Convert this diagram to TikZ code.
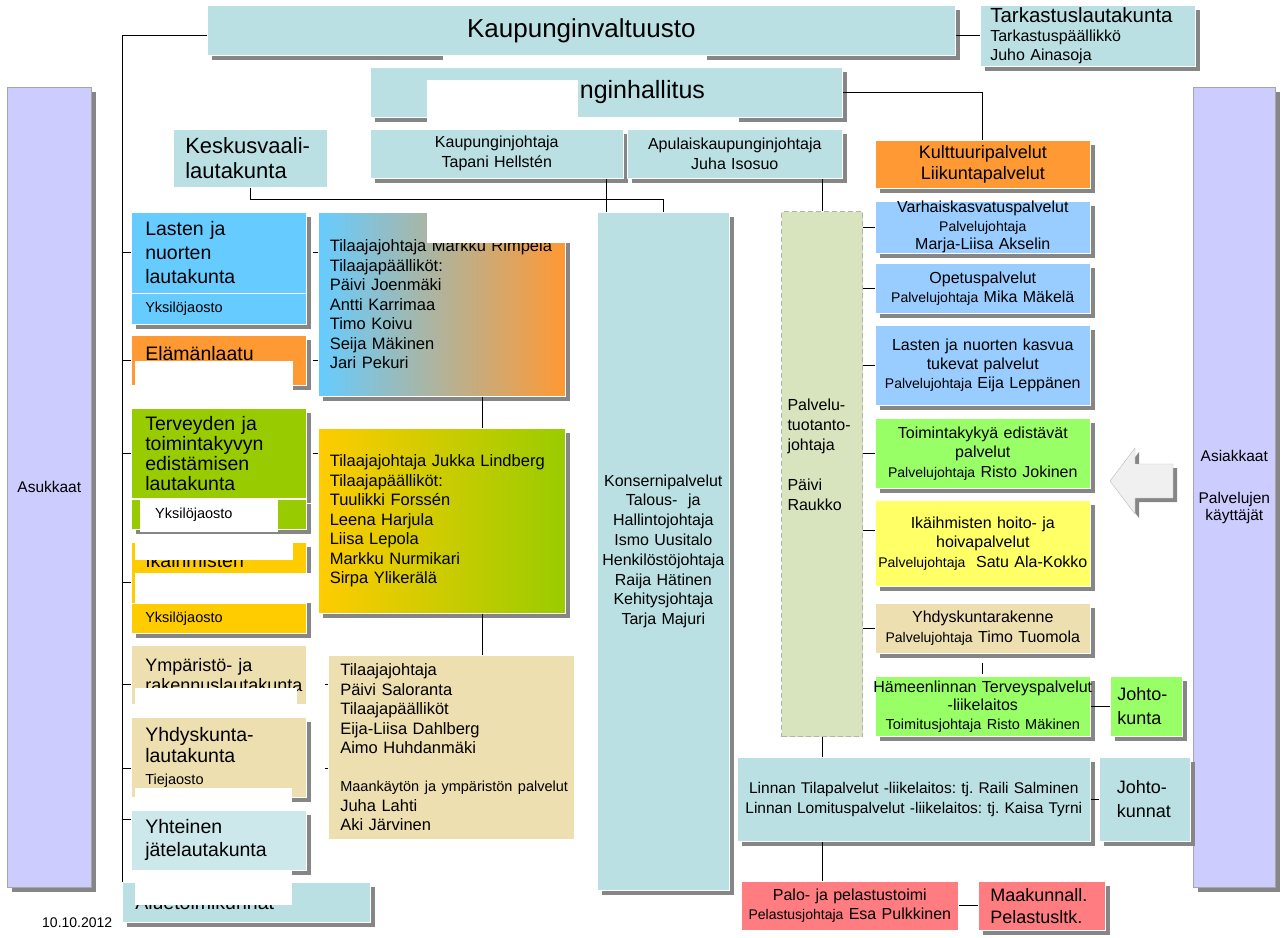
\documentclass[tikz,border=0pt]{standalone}
\usepackage{fontspec}
\setmainfont{Liberation Sans}
\usepackage{xcolor}
\usepackage{tikz}
\usetikzlibrary{calc, shadows}

\definecolor{tealsin}{HTML}{BBE0E3}
\definecolor{jatesin}{HTML}{CCE8EA}
\definecolor{lastensin}{HTML}{66CCFF}
\definecolor{oranssi}{HTML}{FF9933}
\definecolor{vihrea}{HTML}{99CC00}
\definecolor{keltainen}{HTML}{FFCC00}
\definecolor{beige}{HTML}{EEDFB0}
\definecolor{palvsin}{HTML}{99CCFF}
\definecolor{palvvihr}{HTML}{99FF66}
\definecolor{palvkelt}{HTML}{FFFF66}
\definecolor{punainen}{HTML}{FF7C80}
\definecolor{laventeli}{HTML}{CCCCFF}
\definecolor{tuotvihr}{HTML}{D7E4BD}
\definecolor{varjo}{HTML}{868686}
\newcommand{\pien}[1]{{\fontsize{14}{16}\selectfont #1}}
\frenchspacing

\begin{document}
\begin{tikzpicture}[x=1pt, y=-1pt,
    every node/.style={font=\fontsize{16}{19.5}\selectfont},
    box/.style={anchor=north west, draw=white, line width=0.6pt, inner ysep=0pt,
      general shadow={fill=varjo, shadow xshift=5pt, shadow yshift=-5pt}},
    flatbox/.style={anchor=north west, draw=white, line width=0.6pt, inner ysep=0pt},
    ln/.style={black, line width=0.8pt}]
  \useasboundingbox (0,0) rectangle (1284,937);

  % reunat: asukkaat ja asiakkaat
  \node[box, fill=laventeli, draw=gray!70, minimum width=84pt, minimum height=800pt, text width=80pt, inner xsep=2pt, align=center, font=\fontsize{15.5}{17}\selectfont] (asukkaat) at (7,87) {Asukkaat};
  \node[box, fill=laventeli, draw=gray!70, minimum width=82pt, minimum height=800pt, text width=78pt, inner xsep=2pt, align=center, font=\fontsize{15.5}{17}\selectfont] (asiakkaat) at (1193,87) {Asiakkaat\\[25pt]Palvelujen\\käyttäjät};
  \draw[fill=gray!12, draw=gray!55, general shadow={fill=varjo, shadow xshift=4pt, shadow yshift=-4pt}]
    (1110,481) -- (1135,448) -- (1135,464) -- (1173,464) -- (1173,498) -- (1135,498) -- (1135,514) -- cycle;

  % ylin taso
  \node[box, fill=tealsin, minimum width=748pt, minimum height=50pt, font=\fontsize{26}{30}\selectfont] (valtuusto) at (207,5) {Kaupunginvaltuusto};
  \node[box, fill=tealsin, minimum width=215pt, minimum height=61pt, inner xsep=10pt, text width=195pt, align=left, font=\fontsize{16}{19}\selectfont] (tarkastus) at (980,5) {{\fontsize{20.5}{22}\selectfont Tarkastuslautakunta}\\Tarkastuspäällikkö\\Juho Ainasoja};
  \node[box, fill=tealsin, minimum width=472pt, minimum height=50pt, font=\fontsize{25}{30}\selectfont] (hallitus) at (370,67) {Kaupunginhallitus};
  \node[box, fill=tealsin, minimum width=253pt, minimum height=49pt, inner xsep=2pt, text width=249pt, align=center, font=\fontsize{16}{20}\selectfont] (kjohtaja) at (370,129) {Kaupunginjohtaja\\Tapani Hellstén};
  \node[box, fill=tealsin, minimum width=215pt, minimum height=49pt, inner xsep=2pt, text width=211pt, align=center, font=\fontsize{16}{20}\selectfont] (apulais) at (627,129) {Apulaiskaupunginjohtaja\\Juha Isosuo};
  \node[flatbox, fill=tealsin, minimum width=154pt, minimum height=58pt, inner xsep=12pt, text width=130pt, align=left, font=\fontsize{22}{25}\selectfont] (keskusvaali) at (173,129) {Keskusvaali-\\lautakunta};

  % lautakunnat
  \node[box, fill=lastensin, minimum width=175pt, minimum height=81pt, inner xsep=14pt, text width=147pt, align=left, font=\fontsize{19.5}{24}\selectfont] (lasten) at (131,212) {Lasten ja\\nuorten\\lautakunta};
  \node[box, fill=lastensin, minimum width=175pt, minimum height=31pt, inner xsep=14pt, text width=147pt, align=left, font=\fontsize{14.5}{17}\selectfont] (lastenyks) at (131,293) {Yksilöjaosto};
  \node[box, fill=oranssi, minimum width=175pt, minimum height=50pt, inner xsep=14pt, text width=147pt, align=left, font=\fontsize{19.5}{24}\selectfont] (elama) at (131,335) {Elämänlaatu\\[-10pt]\mbox{}};
  \node[box, fill=vihrea, minimum width=175pt, minimum height=90pt, inner xsep=14pt, text width=147pt, align=left, font=\fontsize{19.5}{20}\selectfont] (terveys) at (131,408) {Terveyden ja\\toimintakyvyn\\edistämisen\\lautakunta};
  \node[box, fill=vihrea, minimum width=175pt, minimum height=30pt] (terveysyks) at (131,499) {};
  \node[anchor=north west, fill=white, minimum width=138pt, minimum height=34pt, inner xsep=15pt, inner ysep=0pt, text width=108pt, align=left, font=\fontsize{14.5}{17}\selectfont] (terveysyksteksti) at (140,498) {Yksilöjaosto};
  \node[box, fill=keltainen, minimum width=175pt, minimum height=61pt, inner xsep=14pt, text width=147pt, align=left, font=\fontsize{19.5}{24}\selectfont] (ikaih) at (131,542) {Ikäihmisten\\\mbox{}};
  \node[box, fill=keltainen, minimum width=175pt, minimum height=30pt, inner xsep=14pt, text width=147pt, align=left, font=\fontsize{14.5}{17}\selectfont] (ikaihyks) at (131,603) {Yksilöjaosto};
  \node[flatbox, fill=beige, minimum width=175pt, minimum height=59pt, inner xsep=14pt, text width=147pt, align=left, font=\fontsize{18}{20}\selectfont] (ymparisto) at (131,645) {Ympäristö- ja\\\mbox{rakennuslautakunta}};
  \node[box, fill=beige, minimum width=175pt, minimum height=80pt, inner xsep=14pt, text width=147pt, align=left, font=\fontsize{19.5}{21.5}\selectfont] (yhdyskunta) at (131,717) {Yhdyskunta-\\lautakunta\\{\fontsize{14.5}{17}\selectfont Tiejaosto}};
  \node[box, fill=jatesin, minimum width=175pt, minimum height=60pt, inner xsep=14pt, text width=147pt, align=left, font=\fontsize{19.5}{23}\selectfont] (yhteinen) at (131,810) {Yhteinen\\jätelautakunta};
  \node[box, fill=tealsin, minimum width=248pt, minimum height=40pt, inner xsep=13pt, text width=222pt, align=left, font=\fontsize{19.5}{23}\selectfont] (alue) at (122,882) {Aluetoimikunnat};
  \node[anchor=west, inner sep=0pt, font=\fontsize{14}{16}\selectfont] (pvm) at (42,923) {10.10.2012};

  % tilaajat
  \node[box, left color=lastensin, right color=oranssi, minimum width=247pt, minimum height=184pt, inner xsep=11.5pt, text width=224pt, align=left, font=\fontsize{16.5}{19.5}\selectfont] (rimpela) at (318,212) {Tilaajajohtaja Markku Rimpelä\\Tilaajapäälliköt:\\Päivi Joenmäki\\Antti Karrimaa\\Timo Koivu\\Seija Mäkinen\\Jari Pekuri};
  \node[box, left color=keltainen, right color=vihrea, minimum width=247pt, minimum height=185pt, inner xsep=11.5pt, text width=224pt, align=left, font=\fontsize{16.5}{19.5}\selectfont] (lindberg) at (318,428) {Tilaajajohtaja Jukka Lindberg\\Tilaajapäälliköt:\\Tuulikki Forssén\\Leena Harjula\\Liisa Lepola\\Markku Nurmikari\\Sirpa Ylikerälä};
  \node[flatbox, fill=beige, minimum width=246pt, minimum height=184pt, inner xsep=12pt, text width=222pt, align=left, font=\fontsize{16.5}{19.5}\selectfont] (saloranta) at (328,655) {Tilaajajohtaja\\Päivi Saloranta\\Tilaajapäälliköt\\Eija-Liisa Dahlberg\\Aimo Huhdanmäki\\[18.5pt]\mbox{\fontsize{14.5}{17}\selectfont Maankäytön ja ympäristön palvelut}\\Juha Lahti\\Aki Järvinen};
  \node[box, fill=tealsin, minimum width=132pt, minimum height=678pt, inner xsep=2pt, text width=128pt, align=center, font=\fontsize{16}{19.8}\selectfont] (konserni) at (597,212) {Konsernipalvelut\\Talous-~ ja\\Hallintojohtaja\\Ismo Uusitalo\\Henkilöstöjohtaja\\Raija Hätinen\\Kehitysjohtaja\\Tarja Majuri};

  % palvelutuotanto
  \node[anchor=north west, fill=tuotvihr, draw=gray!60, dash pattern=on 5pt off 3pt, line width=1pt, minimum width=81pt, minimum height=525pt, inner xsep=6pt, inner ysep=0pt, text width=69pt, align=left, font=\fontsize{16}{20}\selectfont] (palvelutuot) at (781,211) {Palvelu-\\tuotanto-\\johtaja\\[20pt]Päivi\\Raukko\\[18pt]\mbox{}};
  \node[box, fill=oranssi, minimum width=215pt, minimum height=48pt, inner xsep=3pt, text width=209pt, align=center, font=\fontsize{18}{21}\selectfont] (kulttuuri) at (875,140) {Kulttuuripalvelut\\Liikuntapalvelut};
  \node[box, fill=palvsin, minimum width=215pt, minimum height=51pt, inner xsep=3pt, text width=209pt, align=center, font=\fontsize{16}{18.5}\selectfont] (varhais) at (875,201) {Varhaiskasvatuspalvelut\\\pien{Palvelujohtaja}\\Marja-Liisa Akselin};
  \node[box, fill=palvsin, minimum width=215pt, minimum height=50pt, inner xsep=3pt, text width=209pt, align=center, font=\fontsize{16}{19}\selectfont] (opetus) at (875,263) {Opetuspalvelut\\\pien{Palvelujohtaja} Mika Mäkelä};
  \node[box, fill=palvsin, minimum width=215pt, minimum height=80pt, inner xsep=3pt, text width=209pt, align=center, font=\fontsize{16}{19}\selectfont] (kasvu) at (875,325) {Lasten ja nuorten kasvua\\tukevat palvelut\\\pien{Palvelujohtaja} Eija Leppänen};
  \node[box, fill=palvvihr, minimum width=215pt, minimum height=70pt, inner xsep=3pt, text width=209pt, align=center, font=\fontsize{16}{19.5}\selectfont] (toiminta) at (875,418) {Toimintakykyä edistävät\\palvelut\\\pien{Palvelujohtaja} Risto Jokinen};
  \node[box, fill=palvkelt, minimum width=215pt, minimum height=86pt, inner xsep=3pt, text width=209pt, align=center, font=\fontsize{16}{19.5}\selectfont] (hoiva) at (875,500) {Ikäihmisten hoito- ja\\hoivapalvelut\\\makebox[\linewidth]{\pien{Palvelujohtaja}\ \ Satu Ala-Kokko}};
  \node[box, fill=beige, minimum width=215pt, minimum height=50pt, inner xsep=3pt, text width=209pt, align=center, font=\fontsize{16}{20}\selectfont] (yhdrak) at (875,603) {Yhdyskuntarakenne\\\pien{Palvelujohtaja} Timo Tuomola};
  \node[box, fill=palvvihr, minimum width=215pt, minimum height=60pt, inner xsep=3pt, text width=209pt, align=center, font=\fontsize{16}{18.5}\selectfont] (terveyspalv) at (875,676) {\makebox[\linewidth]{Hämeenlinnan Terveyspalvelut}\\-liikelaitos\\{\fontsize{14.5}{17}\selectfont Toimitusjohtaja Risto Mäkinen}};
  \node[box, fill=palvvihr, minimum width=72pt, minimum height=60pt, inner xsep=7pt, text width=58pt, align=left, font=\fontsize{18}{24}\selectfont] (johtokunta) at (1110,676) {Johto-\\kunta};
  \node[box, fill=tealsin, minimum width=353pt, minimum height=84pt, inner xsep=2pt, text width=349pt, align=center, font=\fontsize{15.5}{20}\selectfont] (linna) at (737,757) {Linnan Tilapalvelut -liikelaitos: tj. Raili Salminen\\Linnan Lomituspalvelut -liikelaitos: tj. Kaisa Tyrni};
  \node[box, fill=tealsin, minimum width=91pt, minimum height=84pt, inner xsep=17.5pt, text width=56pt, align=left, font=\fontsize{18}{24}\selectfont] (johtokunnat) at (1099,757) {Johto-\\kunnat};
  \node[flatbox, fill=punainen, minimum width=217pt, minimum height=49pt, inner xsep=2pt, text width=213pt, align=center, font=\fontsize{16}{19}\selectfont] (palo) at (741,881) {Palo- ja pelastustoimi\\\pien{Pelastusjohtaja} Esa Pulkkinen};
  \node[box, fill=punainen, minimum width=127pt, minimum height=49pt, inner xsep=12pt, text width=103pt, align=left, font=\fontsize{18}{22}\selectfont] (maakunta) at (978,881) {Maakunnall.\\Pelastusltk.};

  % apupisteet
  \coordinate (ikaihj) at ([yshift=-10pt]ikaih.west);
  \coordinate (ympj) at ([yshift=-10pt]ymparisto.west);
  \coordinate (yhdj) at ([yshift=-11pt]yhdyskunta.west);
  \coordinate (yhtj) at ([yshift=21pt]yhteinen.west);
  \coordinate (kjj) at ([xshift=-17pt]kjohtaja.south east);
  \coordinate (rl) at ([xshift=41pt]rimpela.south);
  \coordinate (hoivaj) at ([yshift=13pt]hoiva.west);

  % yhteydet
  \draw[ln] (valtuusto.east |- tarkastus.west) -- (tarkastus.west);
  \draw[ln] (valtuusto.west |- tarkastus.west) -| (alue.north west);
  \draw[ln] (lasten.west -| alue.north west) -- (lasten.west);
  \draw[ln] (elama.west -| alue.north west) -- (elama.west);
  \draw[ln] (terveys.west -| alue.north west) -- (terveys.west);
  \draw[ln] (ikaihj -| alue.north west) -- (ikaihj);
  \draw[ln] (ympj -| alue.north west) -- (ympj);
  \draw[ln] (yhdj -| alue.north west) -- (yhdj);
  \draw[ln] (yhtj -| alue.north west) -- (yhtj);
  \draw[ln, shorten <=6pt] (lasten.east) -- (lasten.east -| rimpela.west);
  \draw[ln, shorten <=6pt] (elama.east) -- (elama.east -| rimpela.west);
  \draw[ln, shorten <=6pt] (terveys.east) -- (terveys.east -| lindberg.west);
  \draw[ln, shorten <=18pt] (ympj -| ymparisto.east) -- (ympj -| saloranta.west);
  \draw[ln, shorten <=18pt] (yhdj -| yhdyskunta.east) -- (yhdj -| saloranta.west);
  \draw[ln] (rl) -- (rl |- lindberg.north);
  \draw[ln] (rl |- lindberg.south) -- (rl |- saloranta.north);
  \draw[ln] (hallitus.east) -| (kulttuuri.north);
  \draw[ln] (keskusvaali.south) |- ($(konserni.north)+(0,-13)$) -- (konserni.north);
  \draw[ln] (kjj) -- (kjj |- konserni.north);
  \draw[ln] (palvelutuot.north) -- (palvelutuot.north |- apulais.south);
  \draw[ln] (varhais.west -| palvelutuot.east) -- (varhais.west);
  \draw[ln] (opetus.west -| palvelutuot.east) -- (opetus.west);
  \draw[ln] (kasvu.west -| palvelutuot.east) -- (kasvu.west);
  \draw[ln] (toiminta.west -| palvelutuot.east) -- (toiminta.west);
  \draw[ln] (hoivaj -| palvelutuot.east) -- (hoivaj);
  \draw[ln] (yhdrak.west -| palvelutuot.east) -- (yhdrak.west);
  \draw[ln, shorten <=9pt, shorten >=2pt] (yhdrak.south) -- (terveyspalv.north);
  \draw[ln] (terveyspalv.east) -- (johtokunta.west);
  \draw[ln] (palvelutuot.south) -- (palvelutuot.south |- linna.north);
  \draw[ln] (palvelutuot.south |- linna.south) -- (palvelutuot.south |- palo.north);
  \draw[ln] (linna.east) -- (johtokunnat.west);
  \draw[ln] (palo.east) -- (maakunta.west);

  % valkoiset paikat
  \fill[white] (443,56) rectangle (707,62);
  \fill[white] (427,80) rectangle (578,123);
  \fill[white] (578,118) rectangle (739,123);
  \fill[white] (427,210) rectangle (572,243);
  \fill[white] (135,361) rectangle (293,390);
  \fill[white] (135,541) rectangle (293,560);
  \fill[white] (135,573) rectangle (312,602.5);
  \fill[white] (135,688) rectangle (297,712);
  \fill[white] (135,788) rectangle (292,808);
  \fill[white] (135,871) rectangle (292,905);
\end{tikzpicture}
\end{document}
